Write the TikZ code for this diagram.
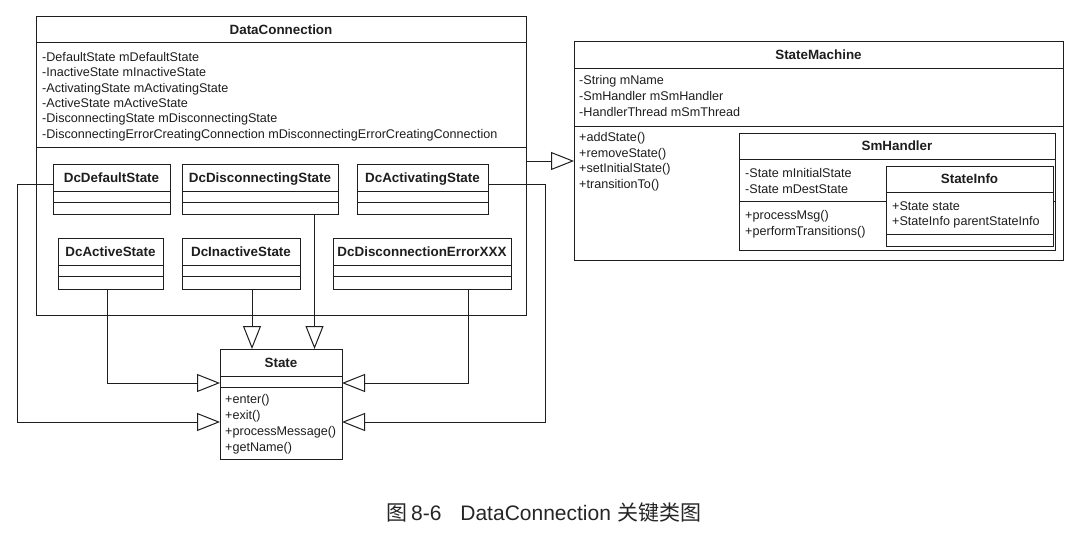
\documentclass[tikz,border=0pt]{standalone}
\usepackage{fontspec}
\setmainfont{Liberation Sans}
\newfontfamily\cjk{Noto Sans CJK SC}
\usetikzlibrary{arrows.meta}
\definecolor{ink}{HTML}{1E1E1E}
\tikzset{
 box/.style={draw=ink, line width=1pt, fill=white, inner sep=0pt, outer sep=0pt, anchor=north west},
 ttl/.style={font=\fontsize{13.4}{16}\selectfont\bfseries, text=ink, anchor=base, inner sep=0pt},
 txt/.style={font=\fontsize{12.6}{15.5}\selectfont, text=ink, anchor=base west, inner sep=0pt},
 sepline/.style={draw=ink, line width=1pt},
 wire/.style={draw=ink, line width=1pt},
 inh/.style={wire, -{Triangle[open, length=23pt, width=18pt, line width=1pt]}},
}
% name, x1, y1, x2, y2, header line y, separator y, title
\newcommand\umlbox[8]{%
 \node[box, minimum width={#4pt-#2pt}, minimum height={#5pt-#3pt}] (#1) at (#2,#3) {};
 \draw[sepline] (#2,#6) -- (#4,#6);
 \draw[sepline] (#2,#7) -- (#4,#7);
 \node[ttl] (#1-t) at ({(#2+#4)/2},{(#3+#6)/2+4.8}) {#8};
}
% prefix, x, first baseline, spacing, list
\newcommand\umllines[5]{%
 \foreach \t [count=\i from 0] in {#5} { \node[txt] (#1\i) at (#2,{#3+\i*#4}) {\t}; }
}
\begin{document}
\begin{tikzpicture}[x=1pt,y=-1pt]
\fill[white] (0,0) rectangle (1086,543);
\useasboundingbox (0,0) rectangle (1086,543);

% DataConnection
\umlbox{dc}{36}{17}{526}{315}{43}{147}{DataConnection}
\umllines{dca}{42}{61.5}{15.35}{-DefaultState mDefaultState,-InactiveState mInactiveState,-ActivatingState mActivatingState,-ActiveState mActiveState,-DisconnectingState mDisconnectingState,-DisconnectingErrorCreatingConnection mDisconnectingErrorCreatingConnection}

% inner state classes
\umlbox{dcdef}{53}{164}{170}{214}{191}{202}{DcDefaultState}
\umlbox{dcdis}{182}{164}{338}{214}{191}{202}{DcDisconnectingState}
\umlbox{dcactv}{357}{164}{488}{214}{191}{202}{DcActivatingState}
\umlbox{dcact}{58}{238}{163}{289}{265}{276}{DcActiveState}
\umlbox{dcinact}{182}{238}{300}{289}{265}{276}{DcInactiveState}
\umlbox{dcerr}{333}{238}{511}{289}{265}{276}{DcDisconnectionErrorXXX}

% State
\umlbox{state}{220}{349}{342}{459}{376}{387}{State}
\umllines{stm}{225}{403.5}{16}{+enter(),+exit(),+processMessage(),+getName()}

% StateMachine
\umlbox{sm}{574}{42}{1063}{260}{68}{126}{StateMachine}
\umllines{sma}{579}{84.5}{16}{-String mName,-SmHandler mSmHandler,-HandlerThread mSmThread}
\umllines{smm}{579}{141.5}{15.5}{+addState(),+removeState(),+setInitialState(),+transitionTo()}

% SmHandler
\umlbox{smh}{739}{133}{1055}{250}{159}{201}{SmHandler}
\umllines{smha}{745}{177.5}{15.5}{-State mInitialState,-State mDestState}
\umllines{smhm}{745}{219.5}{15.5}{+processMsg(),+performTransitions()}

% StateInfo
\umlbox{si}{886}{166}{1053}{246}{192}{234}{StateInfo}
\umllines{sia}{892}{210.5}{15}{+State state,+StateInfo parentStateInfo}

% routing coordinates
\coordinate (k1) at (17,184);
\coordinate (k6) at (545,184);
\coordinate (yA) at (0,383);
\coordinate (yB) at (0,422);
\coordinate (y7) at (0,161);
\coordinate (x2) at (107,0);
\coordinate (x3) at (252,0);
\coordinate (x4) at (314.5,0);
\coordinate (x5) at (468,0);

% connectors
\draw[inh] (dcdef.west |- k1) -- (k1) |- (state.west |- yB);
\draw[inh] (dcact.south -| x2) |- (state.west |- yA);
\draw[inh] (dcinact.south -| x3) -- (state.north -| x3);
\draw[inh] (dcdis.south -| x4) -- (state.north -| x4);
\draw[inh] (dcerr.south -| x5) |- (state.east |- yA);
\draw[inh] (dcactv.east |- k6) -- (k6) |- (state.east |- yB);
\draw[inh] (dc.east |- y7) -- (sm.west |- y7);

% caption
\node[font=\fontsize{21}{24}\selectfont, text=black!85, inner sep=0pt] (cap) at (544,513)
 {{\cjk 图}\,8-6\hspace{0.9em}DataConnection\hspace{0.3em}{\cjk 关键类图}};
\end{tikzpicture}
\end{document}
